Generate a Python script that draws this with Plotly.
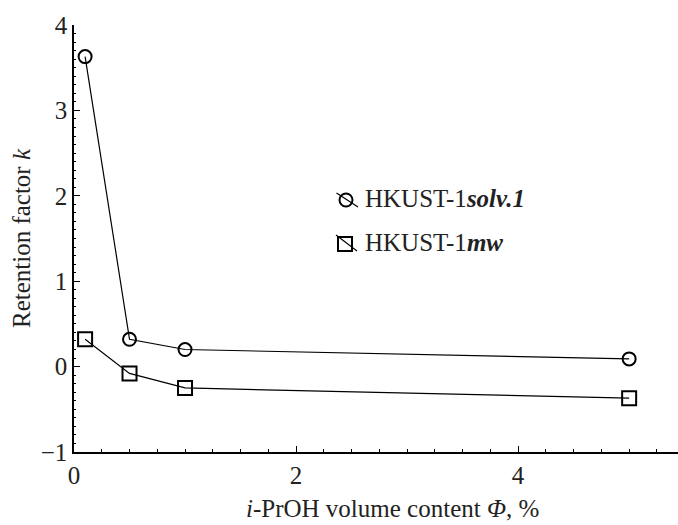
import plotly.graph_objects as go

# Data
phi = [0.1, 0.5, 1.0, 5.0]
k_solv = [3.63, 0.32, 0.20, 0.09]
k_mw = [0.32, -0.08, -0.25, -0.37]
x_ticks = [0, 2, 4]
y_ticks = [-1, 0, 1, 2, 3, 4]
name_solv = "HKUST-1<b><i>solv.1</i></b>"
name_mw = "HKUST-1<b><i>mw</i></b>"
x_title = "<i>i</i>-PrOH volume content <i>Φ</i>, %"
y_title = "Retention factor <i>k</i>"

FONT = "Liberation Serif"
W, H = 678, 525
L, R, T, B = 74, 0, 25, 73
pw, ph = W - L - R, H - T - B

def px(x):
    return (x - L) / pw

def py(y):
    return (H - B - y) / ph

fig = go.Figure()
fig.add_trace(go.Scatter(x=phi, y=k_solv, mode="lines+markers", name="solv",
                         line=dict(color="black", width=1.2),
                         marker=dict(symbol="circle-open", size=13, color="black",
                                     line=dict(width=2, color="black")),
                         showlegend=False))
fig.add_trace(go.Scatter(x=phi, y=k_mw, mode="lines+markers", name="mw",
                         line=dict(color="black", width=1.2),
                         marker=dict(symbol="square-open", size=14, color="black",
                                     line=dict(width=2, color="black")),
                         showlegend=False))

shapes = []
# legend symbols
shapes.append(dict(type="circle", xref="paper", yref="paper",
                   x0=px(339.5), x1=px(352.5), y0=py(193.5), y1=py(206.5),
                   line=dict(color="black", width=2)))
shapes.append(dict(type="line", xref="paper", yref="paper",
                   x0=px(336.5), y0=py(193), x1=px(358), y1=py(207),
                   line=dict(color="black", width=1.2)))
shapes.append(dict(type="rect", xref="paper", yref="paper",
                   x0=px(338), x1=px(352), y0=py(237), y1=py(251),
                   line=dict(color="black", width=2)))
shapes.append(dict(type="line", xref="paper", yref="paper",
                   x0=px(336), y0=py(235), x1=px(357), y1=py(251),
                   line=dict(color="black", width=1.2)))

tf = dict(family=FONT, size=25, color="#222")
annotations = [
    dict(text=name_solv, xref="paper", yref="paper", x=px(363), y=py(198),
         xanchor="left", yanchor="middle", showarrow=False, font=tf),
    dict(text=name_mw, xref="paper", yref="paper", x=px(363), y=py(242),
         xanchor="left", yanchor="middle", showarrow=False, font=tf),
    dict(text=x_title, xref="paper", yref="paper", x=px(392), y=py(509),
         xanchor="center", yanchor="middle", showarrow=False, font=tf),
]

fig.update_layout(
    width=W, height=H,
    margin=dict(l=L, r=R, t=T, b=B),
    paper_bgcolor="white", plot_bgcolor="white",
    font=tf,
    shapes=shapes, annotations=annotations,
    xaxis=dict(range=[0, 5.44], showline=True, linecolor="black", linewidth=2,
               showgrid=False, zeroline=False, ticks="inside", ticklen=6,
               tickwidth=1.2, tickcolor="black", tickvals=x_ticks,
               ticktext=[str(v) for v in x_ticks], tickfont=tf,
               minor=dict(dtick=0.25, tick0=0, ticks="inside", ticklen=3,
                          tickcolor="black", tickwidth=1, showgrid=False)),
    yaxis=dict(range=[-1, 4], showline=True, linecolor="black", linewidth=1.5,
               showgrid=False, zeroline=False, ticks="inside", ticklen=6,
               tickwidth=1.2, tickcolor="black", tickvals=y_ticks,
               ticktext=["−1" if v == -1 else str(v) for v in y_ticks],
               tickfont=tf,
               minor=dict(dtick=0.1, tick0=0, ticks="inside", ticklen=2,
                          tickcolor="black", tickwidth=1, showgrid=False),
               title=dict(text=y_title, font=tf, standoff=3)),
)

fig.write_html("out.html")
